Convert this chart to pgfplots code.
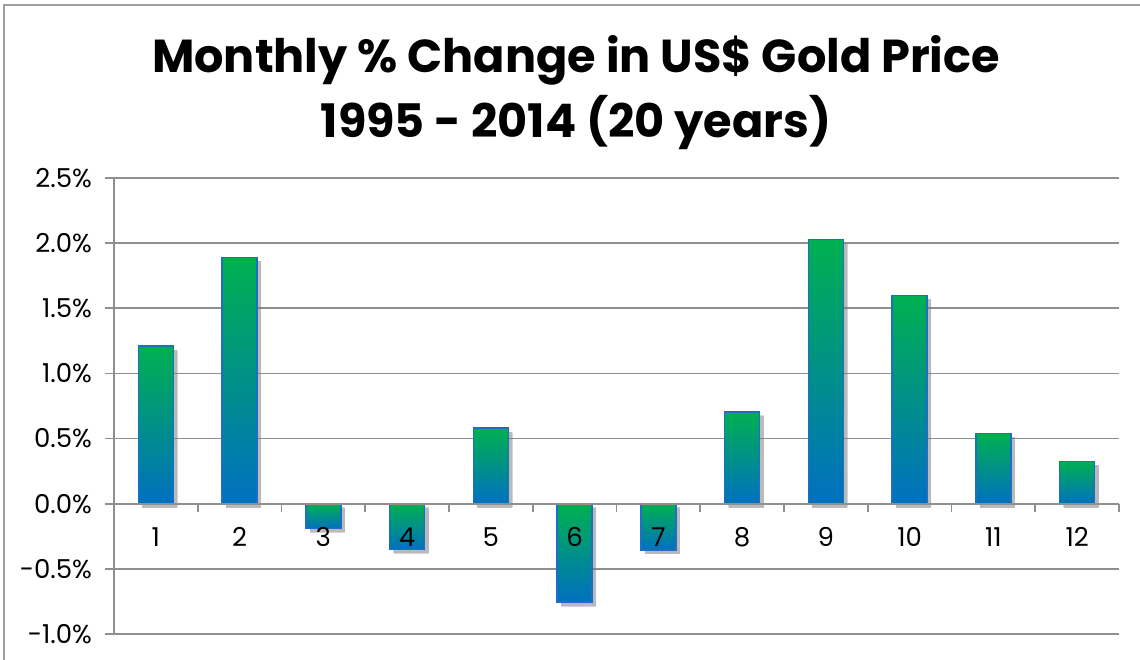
\documentclass[border=0pt]{standalone}
\usepackage{pgfplots}
\pgfplotsset{compat=1.18}
\usepackage{fontspec}
\setmainfont{Poppins}
\usetikzlibrary{shadows}
\definecolor{bargreen}{HTML}{00B050}
\definecolor{barblue}{HTML}{0070C0}
\definecolor{baredge}{HTML}{1C6FC4}
\definecolor{gridgray}{HTML}{8F8F8F}
\definecolor{framegray}{HTML}{A0A0A0}
\pgfplotsset{
  gbar/.style={ybar, bar width=17.5pt, bar shift=0pt, forget plot, on layer=axis ticks,
    draw=baredge, line width=0.7pt, top color=bargreen, bottom color=barblue,
    drop shadow={shadow xshift=2pt, shadow yshift=-2pt, opacity=0.3,
      top color=black!55, bottom color=black!55, draw=none}},
}
\begin{document}
\begin{tikzpicture}
\draw[framegray, line width=1pt] (2pt,-5pt) -- (2pt,327pt) -- (580pt,327pt);
\node[align=center, font=\fontsize{23.1}{32.5}\selectfont\bfseries, anchor=center] at (288pt,283pt)
  {Monthly \% Change in US\$ Gold Price\\1995 - 2014 (20 years)};
\begin{axis}[
  set layers,
  at={(57pt,12.5pt)}, anchor=south west,
  scale only axis, width=502.5pt, height=228pt,
  xmin=0.5, xmax=12.5, ymin=-1, ymax=2.5,
  axis y line=left, axis x line=middle,
  axis line style={-, draw=gridgray, line width=0.9pt},
  xtick={1,...,12},
  xticklabels={1,2,3,4,5,6,7,8,9,10,11,12},
  minor xtick={0.5,1.5,...,12.5},
  x tick style={draw=gridgray, line width=0.9pt},
  major x tick style={draw=none},
  minor tick length=4pt,
  x tick label style={yshift=-4pt, font=\fontsize{13}{15}\selectfont},
  ytick={-1,-0.5,0,0.5,1,1.5,2,2.5},
  yticklabels={-1.0\%,-0.5\%,0.0\%,0.5\%,1.0\%,1.5\%,2.0\%,2.5\%},
  y tick style={draw=gridgray, line width=0.9pt},
  major tick length=4.5pt,
  tick align=outside,
  y tick label style={font=\fontsize{13}{15}\selectfont, xshift=-3pt},
  ymajorgrids, grid style={draw=gridgray, line width=0.9pt},
  clip=false,
]
\addplot[gbar] coordinates {(1,1.21)};
\addplot[gbar] coordinates {(2,1.89)};
\addplot[gbar] coordinates {(3,-0.19)};
\addplot[gbar] coordinates {(4,-0.35)};
\addplot[gbar] coordinates {(5,0.58)};
\addplot[gbar] coordinates {(6,-0.755)};
\addplot[gbar] coordinates {(7,-0.355)};
\addplot[gbar] coordinates {(8,0.705)};
\addplot[gbar] coordinates {(9,2.03)};
\addplot[gbar] coordinates {(10,1.60)};
\addplot[gbar] coordinates {(11,0.54)};
\addplot[gbar] coordinates {(12,0.325)};
\end{axis}
\pgfresetboundingbox
\path[use as bounding box] (0,0) rectangle (570pt,329.5pt);
\end{tikzpicture}
\end{document}
